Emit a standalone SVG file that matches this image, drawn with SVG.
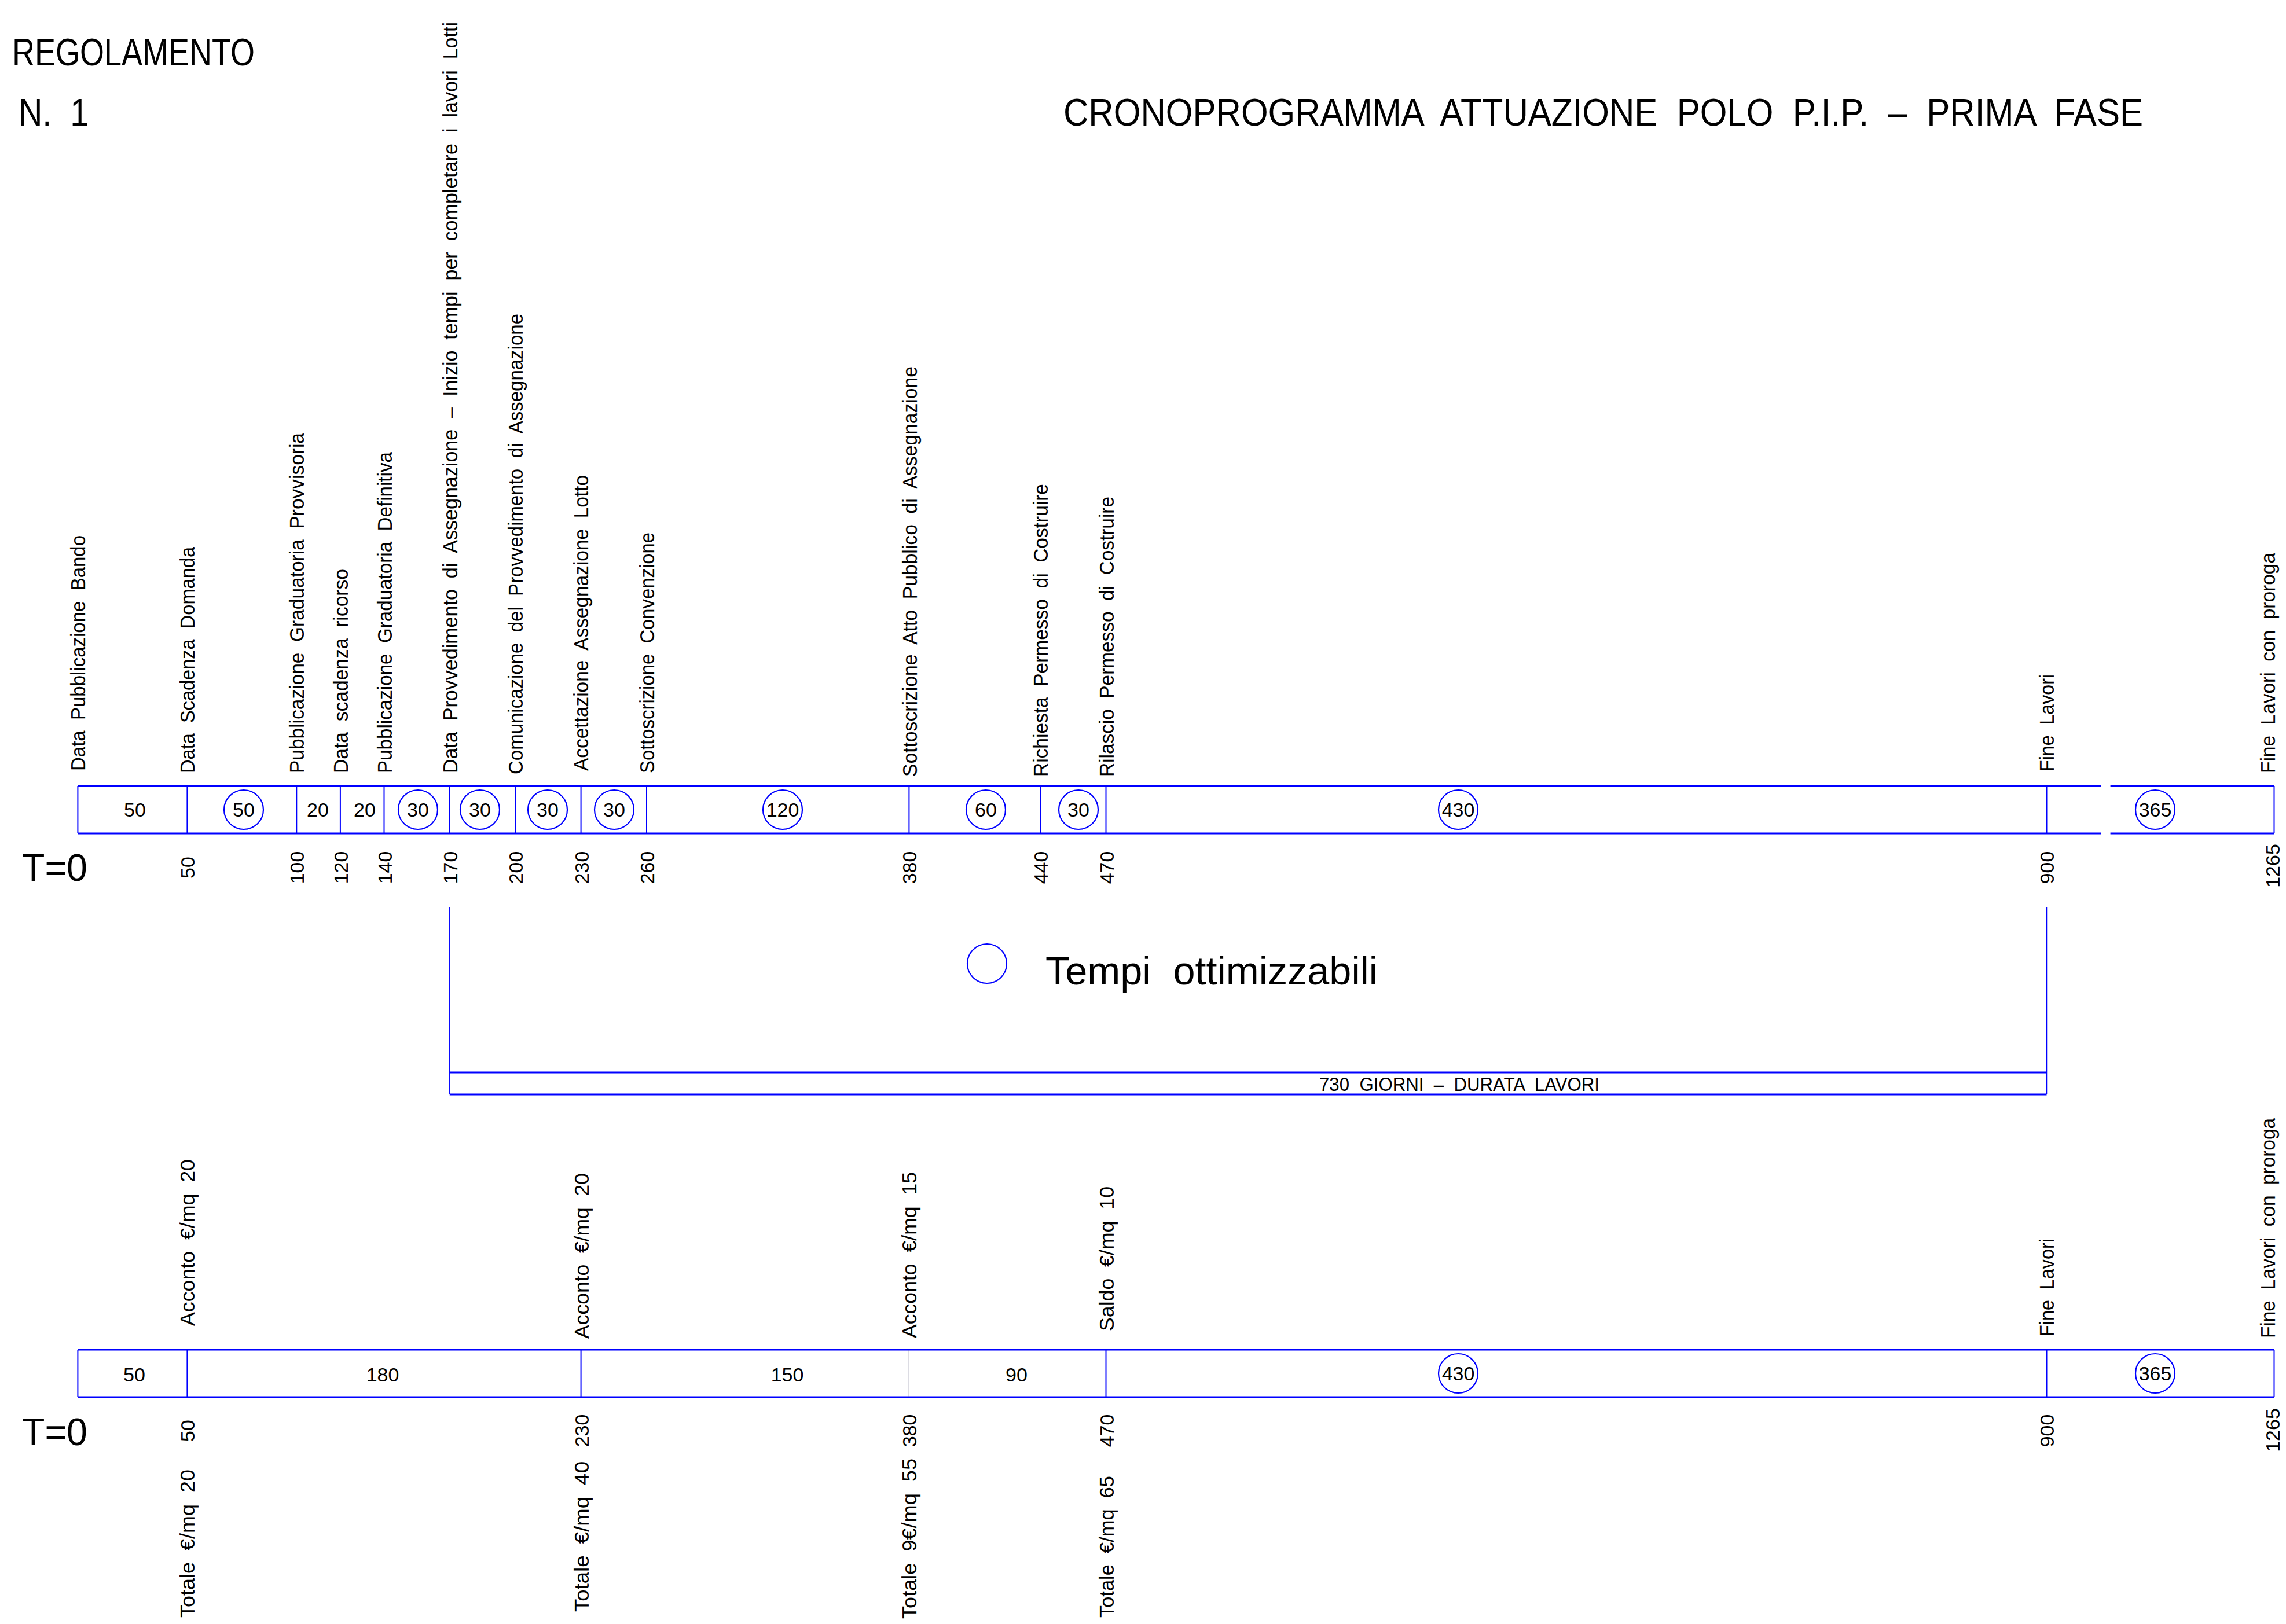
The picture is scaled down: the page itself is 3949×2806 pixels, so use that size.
<svg xmlns="http://www.w3.org/2000/svg" width="3949" height="2806" viewBox="0 0 3949 2806">
<style>
text{font-family:"Liberation Sans",Arial,sans-serif;fill:#000;white-space:pre}
.lbl{font-size:35px}
.num{font-size:34px;text-anchor:middle}
.cell{font-size:34px;text-anchor:middle}
.big{font-size:66px}
.edge{stroke:#0000ff;stroke-width:3;fill:none}
.div{stroke:#0000ff;stroke-width:2;fill:none}
.thin{stroke:#0000ff;stroke-width:1.5;fill:none}
.opt{stroke:#0000ff;stroke-width:2.2;fill:none}
</style>
<rect width="3949" height="2806" fill="#fff"/>

<g id="header">
<text class="big" xml:space="preserve" x="21" y="113" textLength="419" lengthAdjust="spacingAndGlyphs">REGOLAMENTO</text>
<text class="big" xml:space="preserve" x="32" y="217" textLength="121" lengthAdjust="spacingAndGlyphs">N.  1</text>
<text class="big" xml:space="preserve" x="1837" y="217" textLength="1865" lengthAdjust="spacingAndGlyphs">CRONOPROGRAMMA  ATTUAZIONE  POLO  P.I.P.  –  PRIMA  FASE</text>
</g>

<g id="connectors">
<path class="edge" d="M134.4,1358 H3629 M3645.6,1358 H3928.5 M134.4,1440 H3629 M3645.6,1440 H3928.5"/>
<path class="div" d="M134.4,1358 V1440 M323.4,1358 V1440 M512.3,1358 V1440 M587.9,1358 V1440 M663.5,1358 V1440 M776.8,1358 V1440 M890.2,1358 V1440 M1003.6,1358 V1440 M1117,1358 V1440 M1570.4,1358 V1440 M1797.2,1358 V1440 M1910.5,1358 V1440 M3535.5,1358 V1440 M3928.5,1358 V1440"/>
<path class="thin" d="M776.8,1568 V1891 M3535.5,1568 V1891"/>
<path class="edge" d="M776.8,1853 H3535.5 M776.8,1891 H3535.5"/>
<path class="edge" d="M134.4,2332 H3928.5 M134.4,2414 H3928.5"/>
<path class="div" d="M134.4,2332 V2414 M323.4,2332 V2414 M1003.6,2332 V2414 M1910.5,2332 V2414 M3535.5,2332 V2414 M3928.5,2332 V2414"/>
<path d="M1570.4,2332 V2414" stroke="#555577" stroke-width="1.2" fill="none"/>
</g>

<g id="top-labels" class="lbl">
<text xml:space="preserve" transform="translate(147,1332) rotate(-90)" textLength="407" lengthAdjust="spacingAndGlyphs">Data  Pubblicazione  Bando</text>
<text xml:space="preserve" transform="translate(336,1336) rotate(-90)" textLength="391" lengthAdjust="spacingAndGlyphs">Data  Scadenza  Domanda</text>
<text xml:space="preserve" transform="translate(525,1336) rotate(-90)" textLength="588" lengthAdjust="spacingAndGlyphs">Pubblicazione  Graduatoria  Provvisoria</text>
<text xml:space="preserve" transform="translate(601,1336) rotate(-90)" textLength="353" lengthAdjust="spacingAndGlyphs">Data  scadenza  ricorso</text>
<text xml:space="preserve" transform="translate(677,1336) rotate(-90)" textLength="555" lengthAdjust="spacingAndGlyphs">Pubblicazione  Graduatoria  Definitiva</text>
<text xml:space="preserve" transform="translate(790,1336) rotate(-90)" textLength="1298" lengthAdjust="spacingAndGlyphs">Data  Provvedimento  di  Assegnazione  –  Inizio  tempi  per  completare  i  lavori  Lotti</text>
<text xml:space="preserve" transform="translate(903,1338) rotate(-90)" textLength="796" lengthAdjust="spacingAndGlyphs">Comunicazione  del  Provvedimento  di  Assegnazione</text>
<text xml:space="preserve" transform="translate(1016,1332) rotate(-90)" textLength="511" lengthAdjust="spacingAndGlyphs">Accettazione  Assegnazione  Lotto</text>
<text xml:space="preserve" transform="translate(1130,1336) rotate(-90)" textLength="416" lengthAdjust="spacingAndGlyphs">Sottoscrizione  Convenzione</text>
<text xml:space="preserve" transform="translate(1584,1342) rotate(-90)" textLength="709" lengthAdjust="spacingAndGlyphs">Sottoscrizione  Atto  Pubblico  di  Assegnazione</text>
<text xml:space="preserve" transform="translate(1810,1342) rotate(-90)" textLength="506" lengthAdjust="spacingAndGlyphs">Richiesta  Permesso  di  Costruire</text>
<text xml:space="preserve" transform="translate(1924,1342) rotate(-90)" textLength="484" lengthAdjust="spacingAndGlyphs">Rilascio  Permesso  di  Costruire</text>
<text xml:space="preserve" transform="translate(3548,1333) rotate(-90)" textLength="168" lengthAdjust="spacingAndGlyphs">Fine  Lavori</text>
<text xml:space="preserve" transform="translate(3930,1336) rotate(-90)" textLength="381" lengthAdjust="spacingAndGlyphs">Fine  Lavori  con  proroga</text>
</g>

<g id="top-cells">
<text class="cell" x="233" y="1411">50</text>
<g id="c50"><circle class="opt" cx="421" cy="1399" r="34"/><text class="cell" x="421" y="1411">50</text></g>
<text class="cell" x="549" y="1411">20</text>
<text class="cell" x="630" y="1411">20</text>
<g id="c30a"><circle class="opt" cx="722" cy="1399" r="34"/><text class="cell" x="722" y="1411">30</text></g>
<g id="c30b"><circle class="opt" cx="829" cy="1399" r="34"/><text class="cell" x="829" y="1411">30</text></g>
<g id="c30c"><circle class="opt" cx="946" cy="1399" r="34"/><text class="cell" x="946" y="1411">30</text></g>
<g id="c30d"><circle class="opt" cx="1061" cy="1399" r="34"/><text class="cell" x="1061" y="1411">30</text></g>
<g id="c120"><circle class="opt" cx="1352" cy="1399" r="34"/><text class="cell" x="1352" y="1411">120</text></g>
<g id="c60"><circle class="opt" cx="1703" cy="1399" r="34"/><text class="cell" x="1703" y="1411">60</text></g>
<g id="c30e"><circle class="opt" cx="1863" cy="1399" r="34"/><text class="cell" x="1863" y="1411">30</text></g>
<g id="c430"><circle class="opt" cx="2519" cy="1399" r="34"/><text class="cell" x="2519" y="1411">430</text></g>
<g id="c365"><circle class="opt" cx="3723" cy="1399" r="34"/><text class="cell" x="3723" y="1411">365</text></g>
</g>

<g id="top-numbers">
<text class="big" x="38" y="1522" textLength="113" lengthAdjust="spacingAndGlyphs">T=0</text>
<text class="num" transform="translate(336,1499) rotate(-90)">50</text>
<text class="num" transform="translate(525,1499) rotate(-90)">100</text>
<text class="num" transform="translate(601,1499) rotate(-90)">120</text>
<text class="num" transform="translate(677,1499) rotate(-90)">140</text>
<text class="num" transform="translate(790,1499) rotate(-90)">170</text>
<text class="num" transform="translate(903,1499) rotate(-90)">200</text>
<text class="num" transform="translate(1017,1499) rotate(-90)">230</text>
<text class="num" transform="translate(1130,1499) rotate(-90)">260</text>
<text class="num" transform="translate(1583,1499) rotate(-90)">380</text>
<text class="num" transform="translate(1810,1499) rotate(-90)">440</text>
<text class="num" transform="translate(1924,1499) rotate(-90)">470</text>
<text class="num" transform="translate(3548,1499) rotate(-90)">900</text>
<text class="num" transform="translate(3938,1496) rotate(-90)">1265</text>
</g>

<g id="legend">
<circle class="opt" cx="1705" cy="1665" r="34"/>
<text xml:space="preserve" x="1806" y="1701" font-size="68" textLength="574" lengthAdjust="spacingAndGlyphs">Tempi  ottimizzabili</text>
</g>

<g id="durata">
<text xml:space="preserve" x="2279" y="1885" font-size="34" textLength="484" lengthAdjust="spacingAndGlyphs">730  GIORNI  –  DURATA  LAVORI</text>
</g>

<g id="bottom-labels" class="lbl">
<text xml:space="preserve" transform="translate(336,2291) rotate(-90)" textLength="288" lengthAdjust="spacingAndGlyphs">Acconto  €/mq  20</text>
<text xml:space="preserve" transform="translate(1017,2313) rotate(-90)" textLength="286" lengthAdjust="spacingAndGlyphs">Acconto  €/mq  20</text>
<text xml:space="preserve" transform="translate(1583,2312) rotate(-90)" textLength="287" lengthAdjust="spacingAndGlyphs">Acconto  €/mq  15</text>
<text xml:space="preserve" transform="translate(1924,2300) rotate(-90)" textLength="250" lengthAdjust="spacingAndGlyphs">Saldo  €/mq  10</text>
<text xml:space="preserve" transform="translate(3548,2309) rotate(-90)" textLength="169" lengthAdjust="spacingAndGlyphs">Fine  Lavori</text>
<text xml:space="preserve" transform="translate(3930,2312) rotate(-90)" textLength="380" lengthAdjust="spacingAndGlyphs">Fine  Lavori  con  proroga</text>
</g>

<g id="bottom-cells">
<text class="cell" x="232" y="2387">50</text>
<text class="cell" x="661" y="2387">180</text>
<text class="cell" x="1360" y="2387">150</text>
<text class="cell" x="1756" y="2387">90</text>
<g id="b430"><circle class="opt" cx="2519" cy="2373" r="34"/><text class="cell" x="2519" y="2385">430</text></g>
<g id="b365"><circle class="opt" cx="3723" cy="2373" r="34"/><text class="cell" x="3723" y="2385">365</text></g>
</g>

<g id="bottom-numbers">
<text class="big" x="38" y="2497" textLength="113" lengthAdjust="spacingAndGlyphs">T=0</text>
<text class="num" transform="translate(336,2472) rotate(-90)">50</text>
<text class="num" transform="translate(1017,2472) rotate(-90)">230</text>
<text class="num" transform="translate(1583,2472) rotate(-90)">380</text>
<text class="num" transform="translate(1924,2472) rotate(-90)">470</text>
<text class="num" transform="translate(3548,2472) rotate(-90)">900</text>
<text class="num" transform="translate(3938,2471) rotate(-90)">1265</text>
</g>

<g id="totals" class="lbl">
<text xml:space="preserve" transform="translate(336,2795) rotate(-90)" textLength="256" lengthAdjust="spacingAndGlyphs">Totale  €/mq  20</text>
<text xml:space="preserve" transform="translate(1017,2785) rotate(-90)" textLength="260" lengthAdjust="spacingAndGlyphs">Totale  €/mq  40</text>
<text xml:space="preserve" transform="translate(1583,2797) rotate(-90)" textLength="277" lengthAdjust="spacingAndGlyphs">Totale  9€/mq  55</text>
<text xml:space="preserve" transform="translate(1924,2795) rotate(-90)" textLength="245" lengthAdjust="spacingAndGlyphs">Totale  €/mq  65</text>
</g>
</svg>
